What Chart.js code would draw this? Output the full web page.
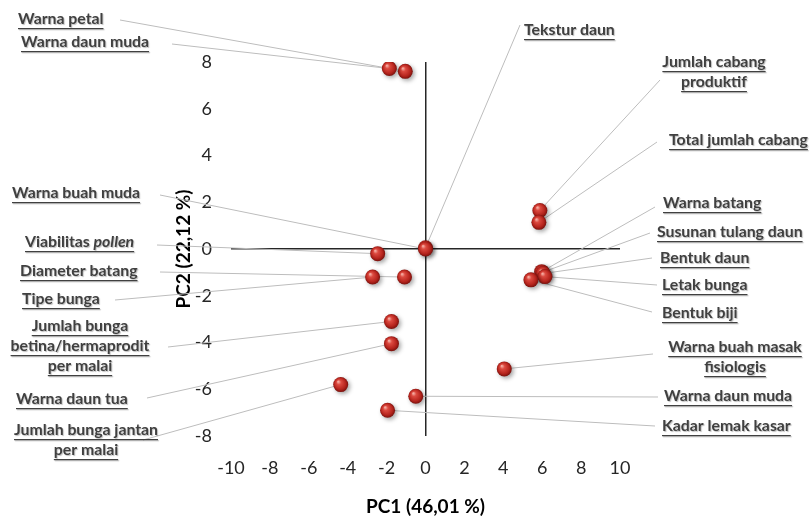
<!DOCTYPE html>
<html lang="id">
<head>
    <meta charset="UTF-8">
    <title>PCA - PC1 vs PC2</title>
    <script src="https://cdn.jsdelivr.net/npm/chart.js"></script>
    <style>
        html, body { margin: 0; padding: 0; background: #fff; }
        #wrap { width: 812px; height: 519px; }
    </style>
</head>
<body>
    <div id="wrap"><canvas id="pcaChart" width="812" height="519"></canvas></div>
    <script>
        // trait names (*...* = italic part, | = line break)
        const traits = [
            'Warna petal', 'Warna daun muda', 'Tekstur daun', 'Warna buah muda',
            'Jumlah cabang|produktif', 'Total jumlah cabang', 'Warna batang',
            'Susunan tulang daun', 'Bentuk daun', 'Letak bunga', 'Bentuk biji',
            'Viabilitas *pollen*', 'Diameter batang', 'Tipe bunga',
            'Jumlah bunga|betina/hermaprodit|per malai', 'Warna daun tua',
            'Jumlah bunga jantan|per malai', 'Warna buah masak|fisiologis',
            'Warna daun muda', 'Kadar lemak kasar'
        ];
        // PC1 scores
        const pc1 = [
            -1.04, -1.86, 0.0, 0.0,
            5.88, 5.83, 5.97,
            6.0, 6.05, 6.14, 5.42,
            -2.46, -1.08, -2.72,
            -1.75, -1.75,
            -4.36, 4.05,
            -0.5, -1.95
        ];
        // PC2 scores
        const pc2 = [
            7.6, 7.72, 0.05, 0.0,
            1.65, 1.14, -0.97,
            -1.0, -1.05, -1.18, -1.32,
            -0.2, -1.2, -1.2,
            -3.1, -4.05,
            -5.8, -5.13,
            -6.3, -6.9
        ];
        const xTickMin = -10, xTickMax = 10, xStep = 2;
        const yTickMin = -8, yTickMax = 8, yStep = 2;

        // where each label sits on the page: text x, first line centre y, align, leader start
        const labelLayout = [
            { x: 18, y: 19, align: 'left', from: [120, 20] },
            { x: 21, y: 42, align: 'left', from: [172, 44] },
            { x: 524, y: 30, align: 'left', from: [520, 25] },
            { x: 12, y: 193, align: 'left', from: [160, 195] },
            { x: 714, y: 62, align: 'center', from: [660, 80] },
            { x: 669, y: 140, align: 'left', from: [657, 142] },
            { x: 663, y: 203, align: 'left', from: [655, 207] },
            { x: 657, y: 232, align: 'left', from: [650, 233] },
            { x: 660, y: 258, align: 'left', from: [652, 258] },
            { x: 662, y: 285, align: 'left', from: [657, 285] },
            { x: 662, y: 313, align: 'left', from: [652, 312] },
            { x: 25, y: 242, align: 'left', from: [157, 245] },
            { x: 20, y: 271, align: 'left', from: [160, 272] },
            { x: 22, y: 299, align: 'left', from: [115, 300] },
            { x: 80, y: 326, align: 'center', from: [168, 347] },
            { x: 16, y: 399, align: 'left', from: [147, 398] },
            { x: 86, y: 430, align: 'center', from: [143, 440] },
            { x: 735, y: 347, align: 'center', from: [653, 354] },
            { x: 664, y: 396, align: 'left', from: [658, 397] },
            { x: 662, y: 426, align: 'left', from: [655, 426] }
        ];

        const labelFont = 'Lato, "Open Sans", sans-serif';
        const labelSize = 15.8;
        const lineStep = 20;

        function parseSegs(line) {
            const parts = line.split('*');
            return parts.map((t, i) => ({ text: t, italic: i % 2 === 1 })).filter(s => s.text.length);
        }

        const leaderPlugin = {
            id: 'leaders',
            beforeDatasetsDraw(chart) {
                const ctx = chart.ctx;
                const xs = chart.scales.x, ys = chart.scales.y;
                ctx.save();
                ctx.strokeStyle = '#bdbdbd';
                ctx.lineWidth = 1;
                labelLayout.forEach((l, i) => {
                    ctx.beginPath();
                    ctx.moveTo(l.from[0], l.from[1]);
                    ctx.lineTo(xs.getPixelForValue(pc1[i]), ys.getPixelForValue(pc2[i]));
                    ctx.stroke();
                });
                ctx.restore();
            },
            beforeDatasetDraw(chart) {
                const ctx = chart.ctx;
                ctx.save();
                ctx.shadowColor = 'rgba(0,0,0,0.35)';
                ctx.shadowBlur = 4;
                ctx.shadowOffsetX = 2;
                ctx.shadowOffsetY = 2;
            },
            afterDatasetDraw(chart) {
                chart.ctx.restore();
            },
            afterDraw(chart) {
                const ctx = chart.ctx;
                ctx.save();
                ctx.textBaseline = 'middle';
                traits.forEach((name, i) => {
                    const l = labelLayout[i];
                    name.split('|').forEach((line, k) => {
                        const segs = parseSegs(line);
                        let total = 0;
                        segs.forEach(s => {
                            ctx.font = (s.italic ? 'italic ' : '') + 'bold ' + labelSize + 'px ' + labelFont;
                            s.w = ctx.measureText(s.text).width;
                            total += s.w;
                        });
                        let x = l.align === 'center' ? l.x - total / 2 : l.x;
                        const y = l.y + k * lineStep;
                        const x0 = x;
                        ctx.shadowColor = 'rgba(0,0,0,0.25)';
                        ctx.shadowBlur = 1;
                        ctx.shadowOffsetX = 1;
                        ctx.shadowOffsetY = 1;
                        ctx.fillStyle = '#404040';
                        segs.forEach(s => {
                            ctx.font = (s.italic ? 'italic ' : '') + 'bold ' + labelSize + 'px ' + labelFont;
                            ctx.fillText(s.text, x, y);
                            x += s.w;
                        });
                        ctx.fillRect(x0, y + 9, total, 1.2);
                    });
                });
                ctx.restore();
            }
        };

        function sphere(context) {
            const chart = context.chart;
            if (!chart.chartArea || context.type !== 'data') return '#c0302a';
            const px = chart.scales.x.getPixelForValue(context.parsed.x);
            const py = chart.scales.y.getPixelForValue(context.parsed.y);
            const g = chart.ctx.createRadialGradient(px - 2.5, py - 3, 0.5, px, py, 8);
            g.addColorStop(0, '#f4aaa0');
            g.addColorStop(0.25, '#dc4a40');
            g.addColorStop(0.7, '#b5241d');
            g.addColorStop(1, '#6e0e0a');
            return g;
        }

        const points = pc1.map((v, i) => ({ x: v, y: pc2[i] }));

        new Chart(document.getElementById('pcaChart').getContext('2d'), {
            type: 'scatter',
            data: {
                datasets: [{
                    label: 'PCA',
                    data: points,
                    pointRadius: 7.5,
                    pointBorderWidth: 0,
                    pointBackgroundColor: sphere,
                    pointBorderColor: 'rgba(0,0,0,0)'
                }]
            },
            options: {
                responsive: false,
                animation: false,
                events: [],
                layout: { padding: { left: 165, top: 62, right: 192, bottom: 0 } },
                plugins: { legend: { display: false }, tooltip: { enabled: false } },
                scales: {
                    x: {
                        type: 'linear',
                        min: xTickMin, max: xTickMax,
                        afterFit: s => { s.height = 83; },
                        border: { display: false },
                        grid: {
                            drawTicks: false,
                            color: c => c.tick && c.tick.value === 0 ? '#262626' : 'rgba(0,0,0,0)',
                            lineWidth: 1.5
                        },
                        ticks: {
                            stepSize: xStep, padding: 21, color: '#262626',
                            font: { family: 'Lato', size: 18 }
                        },
                        title: {
                            display: true, text: 'PC1 (46,01 %)', color: '#000',
                            font: { family: 'Lato', size: 19, weight: 'bold' },
                            padding: { top: 0, bottom: 1 }
                        }
                    },
                    y: {
                        type: 'linear',
                        min: yTickMin, max: yTickMax,
                        afterFit: s => { s.width = 66; },
                        border: { display: false },
                        grid: {
                            drawTicks: false,
                            color: c => c.tick && c.tick.value === 0 ? '#262626' : 'rgba(0,0,0,0)',
                            lineWidth: 1.5
                        },
                        ticks: {
                            stepSize: yStep, padding: 19, color: '#262626',
                            font: { family: 'Lato', size: 18 }
                        },
                        title: {
                            display: true, text: 'PC2 (22,12 %)', color: '#000',
                            font: { family: 'Lato', size: 19, weight: 'bold' },
                            padding: { top: 7, bottom: 0 }
                        }
                    }
                }
            },
            plugins: [leaderPlugin]
        });
    </script>
</body>
</html>
